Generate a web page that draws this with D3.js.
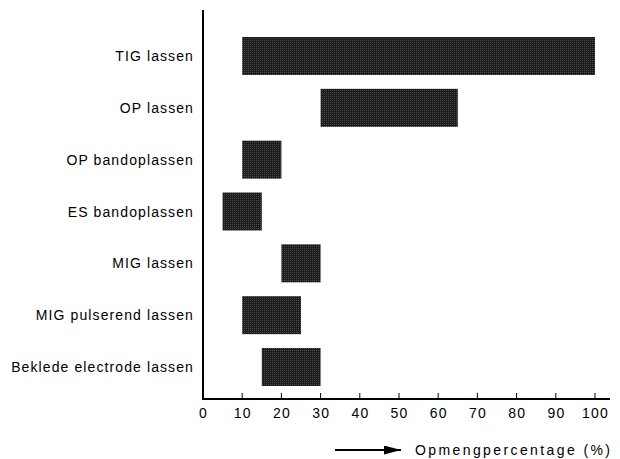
<!DOCTYPE html>
<html><head><meta charset="utf-8">
<script src="https://cdn.jsdelivr.net/npm/d3@7"></script>
<style>body{margin:0;background:#fff}svg{display:block}text{font-family:"Liberation Sans",Arial,sans-serif}</style>
</head><body><svg id="c" width="620" height="459"></svg>
<script>
const categories = ["TIG lassen","OP lassen","OP bandoplassen","ES bandoplassen","MIG lassen","MIG pulserend lassen","Beklede electrode lassen"];
const startValues = [10,30,10,5,20,10,15];
const endValues = [100,65,20,15,30,25,30];
const xTicks = [0,10,20,30,40,50,60,70,80,90,100];
const xLabel = "Opmengpercentage (%)";

const svg = d3.select("#c");
const defs = svg.append("defs");
const pat = defs.append("pattern").attr("id","stip").attr("patternUnits","userSpaceOnUse").attr("width",2).attr("height",2);
pat.append("rect").attr("width",2).attr("height",2).attr("fill","#1c1c1c");
pat.append("rect").attr("x",0).attr("y",0).attr("width",1).attr("height",1).attr("fill","#4a4a4a");

const x = d3.scaleLinear().domain([0,100]).range([203,595]);
const y = d3.scalePoint().domain(categories).range([56,367]);
const barH = 38;

// bars
svg.append("g").selectAll("rect").data(categories).join("rect")
  .attr("x",(d,i)=>x(startValues[i]))
  .attr("y",d=>y(d)-barH/2)
  .attr("width",(d,i)=>x(endValues[i])-x(startValues[i]))
  .attr("height",barH)
  .attr("fill","url(#stip)");

// axes lines
svg.append("line").attr("x1",203).attr("x2",203).attr("y1",10).attr("y2",399.5).attr("stroke","#000").attr("stroke-width",2);
svg.append("line").attr("x1",202).attr("x2",610).attr("y1",399).attr("y2",399).attr("stroke","#000").attr("stroke-width",2);

// ticks
svg.append("g").selectAll("line").data(xTicks.slice(1)).join("line")
  .attr("x1",d=>x(d)).attr("x2",d=>x(d)).attr("y1",393).attr("y2",399)
  .attr("stroke","#000").attr("stroke-width",1);
svg.append("g").selectAll("text").data(xTicks).join("text")
  .attr("x",d=>x(d)+0.6).attr("y",418).attr("text-anchor","middle")
  .attr("font-size",14).attr("letter-spacing",1.2).text(d=>d);

// category labels
svg.append("g").selectAll("text").data(categories).join("text")
  .attr("x",194).attr("y",d=>y(d)+5).attr("text-anchor","end")
  .attr("font-size",14).attr("letter-spacing",1.1).text(d=>d);

// axis title with arrow
defs.append("marker").attr("id","arr").attr("viewBox","0 0 10 10").attr("refX",10).attr("refY",5)
  .attr("markerWidth",17).attr("markerHeight",9).attr("markerUnits","userSpaceOnUse").attr("orient","auto").attr("preserveAspectRatio","none")
  .append("path").attr("d","M0,0L10,5L0,10Z").attr("fill","#000");
svg.append("line").attr("x1",335).attr("x2",401).attr("y1",450).attr("y2",450).attr("stroke","#000").attr("stroke-width",2).attr("marker-end","url(#arr)");
svg.append("text").attr("x",415).attr("y",455).attr("font-size",14).attr("letter-spacing",2.4).text(xLabel);
</script></body></html>
